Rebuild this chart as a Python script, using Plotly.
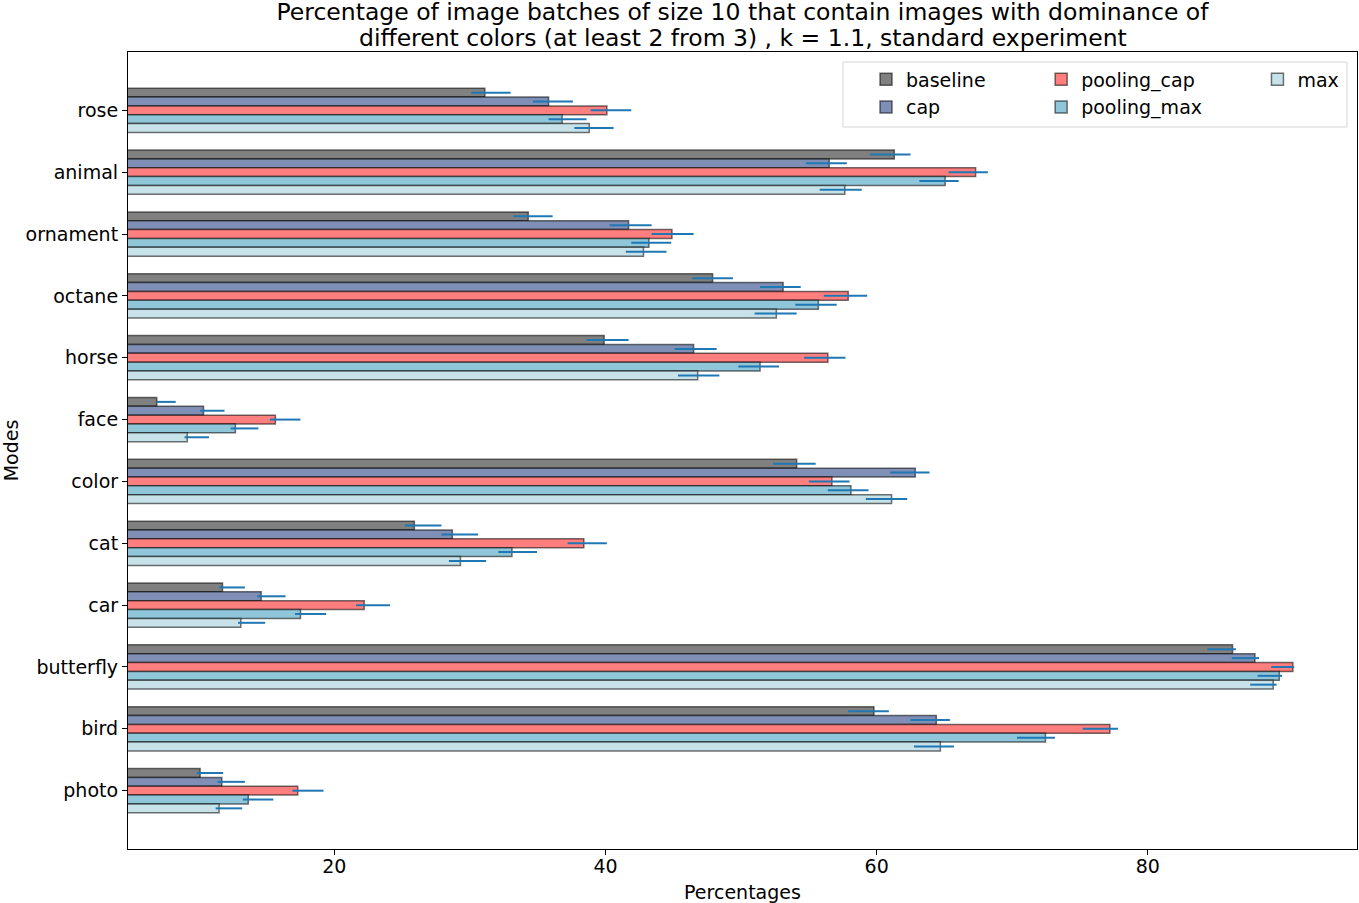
import plotly.graph_objects as go

# categories, listed top to bottom as in the figure
modes = ['rose', 'animal', 'ornament', 'octane', 'horse', 'face',
         'color', 'cat', 'car', 'butterfly', 'bird', 'photo']

# mean percentages per experiment
baseline = [31.1, 61.3, 34.3, 47.9, 39.9, 6.9, 54.1, 25.9, 11.75, 86.25, 59.8, 10.1]
cap = [35.8, 56.5, 41.7, 53.1, 46.5, 10.35, 62.85, 28.7, 14.6, 87.9, 64.4, 11.7]
pooling_cap = [40.1, 67.3, 44.9, 57.9, 56.4, 15.65, 56.7, 38.4, 22.2, 90.7, 77.2, 17.3]
pooling_max = [36.8, 65.05, 43.2, 55.7, 51.4, 12.7, 58.1, 33.1, 17.5, 89.7, 72.45, 13.65]
max_ = [38.8, 57.65, 42.8, 52.6, 46.8, 9.15, 61.1, 29.3, 13.1, 89.25, 64.7, 11.5]

# lower / upper ends of the error bars
baseline_lo = [30.1, 59.5, 33.2, 46.4, 38.6, 6.9, 52.35, 25.2, 11.5, 84.4, 57.9, 9.85]
baseline_hi = [33.0, 62.5, 36.1, 49.4, 41.7, 8.3, 55.5, 27.9, 13.4, 86.5, 60.9, 11.8]
cap_lo = [34.65, 54.8, 40.3, 51.4, 45.1, 10.1, 61.0, 27.9, 14.3, 86.2, 62.5, 11.4]
cap_hi = [37.6, 57.8, 43.4, 54.4, 48.2, 11.9, 63.9, 30.6, 16.4, 88.2, 65.4, 13.4]
pooling_cap_lo = [38.9, 65.3, 43.4, 56.1, 54.65, 15.25, 55.0, 37.2, 21.6, 89.1, 75.2, 16.9]
pooling_cap_hi = [41.9, 68.2, 46.5, 59.3, 57.7, 17.5, 58.0, 40.1, 24.1, 90.8, 77.8, 19.2]
pooling_max_lo = [35.8, 63.15, 41.9, 54.0, 49.8, 12.35, 56.4, 32.1, 17.1, 88.1, 70.35, 13.25]
pooling_max_hi = [38.6, 66.05, 44.85, 57.05, 52.8, 14.4, 59.4, 34.95, 19.4, 89.9, 73.15, 15.5]
max_lo = [37.7, 55.8, 41.5, 51.0, 45.35, 8.95, 59.2, 28.45, 12.9, 87.55, 62.75, 11.25]
max_hi = [40.6, 58.9, 44.5, 54.1, 48.4, 10.75, 62.25, 31.2, 14.9, 89.5, 65.7, 13.2]

series = [
    ('baseline', baseline, baseline_lo, baseline_hi, '#808080', 'legend'),
    ('cap', cap, cap_lo, cap_hi, '#7f8fb5', 'legend'),
    ('pooling_cap', pooling_cap, pooling_cap_lo, pooling_cap_hi, '#ff7f7f', 'legend2'),
    ('pooling_max', pooling_max, pooling_max_lo, pooling_max_hi, '#90c6d9', 'legend2'),
    ('max', max_, max_lo, max_hi, '#c8e2ea', 'legend3'),
]

title_line1 = 'Percentage of image batches of size 10 that contain images with dominance of'
title_line2 = 'different colors (at least 2 from 3) , k = 1.1, standard experiment'

FONT = 'DejaVu Sans'
fig = go.Figure()

for name, vals, lo, hi, color, leg in series:
    fig.add_trace(go.Bar(
        y=modes, x=vals, name=name, orientation='h',
        marker=dict(color=color, line=dict(color='rgba(0,0,0,0.55)', width=1.5)),
        error_x=dict(type='data', symmetric=False,
                     array=[h - v for h, v in zip(hi, vals)],
                     arrayminus=[v - l for v, l in zip(vals, lo)],
                     color='#1f77b4', thickness=2, width=0),
        legend=leg,
    ))

leg_style = dict(yanchor='top', xanchor='left', y=0.9895, bgcolor='rgba(0,0,0,0)',
                 font=dict(family=FONT, size=19, color='black'), tracegroupgap=0)

fig.update_layout(
    width=1359, height=903,
    margin=dict(l=128, r=2, t=52, b=54, autoexpand=False),
    paper_bgcolor='white', plot_bgcolor='white',
    barmode='group', bargap=0.285, bargroupgap=0,
    font=dict(family=FONT, size=19, color='black'),
    # plotly spaces <br> lines too far apart, so the second title line is an annotation
    title=dict(text=title_line1, x=0.5, xref='paper', xanchor='center',
               y=1, yref='paper', yanchor='bottom', pad=dict(b=32),
               font=dict(family=FONT, size=23.5, color='black')),
    annotations=[dict(text=title_line2, xref='paper', yref='paper', x=0.5, y=1,
                      xanchor='center', yanchor='bottom', yshift=-2, showarrow=False,
                      font=dict(family=FONT, size=23.5, color='black'))],
    legend=dict(x=0.6005, **leg_style),
    legend2=dict(x=0.743, **leg_style),
    legend3=dict(x=0.919, **leg_style),
    shapes=[dict(type='rect', xref='paper', yref='paper', x0=0.5818, x1=0.9919,
                 y0=0.9059, y1=0.9875, line=dict(color='#d6d6d6', width=1),
                 fillcolor='rgba(255,255,255,0.8)', layer='below')],
)

fig.update_xaxes(
    range=[4.78, 95.43], tickvals=[20, 40, 60, 80], ticks='outside', ticklen=5,
    tickcolor='black', showline=True, linecolor='black', linewidth=1.2, mirror=True,
    showgrid=False, zeroline=False, automargin=False, ticklabelstandoff=-5,
    title=dict(text='Percentages', standoff=10, font=dict(family=FONT, size=19)),
)
fig.update_yaxes(
    range=[11.943, -0.943], ticks='outside', ticklen=5, tickcolor='black',
    showline=True, linecolor='black', linewidth=1.2, mirror=True, showgrid=False,
    automargin=False,
    title=dict(text='Modes', standoff=14, font=dict(family=FONT, size=19)),
)

# drop the default 8px body margin so the figure fills the window exactly
fig.write_html('out.html', config={'displayModeBar': False},
               post_script="document.body.style.margin='0px';")
